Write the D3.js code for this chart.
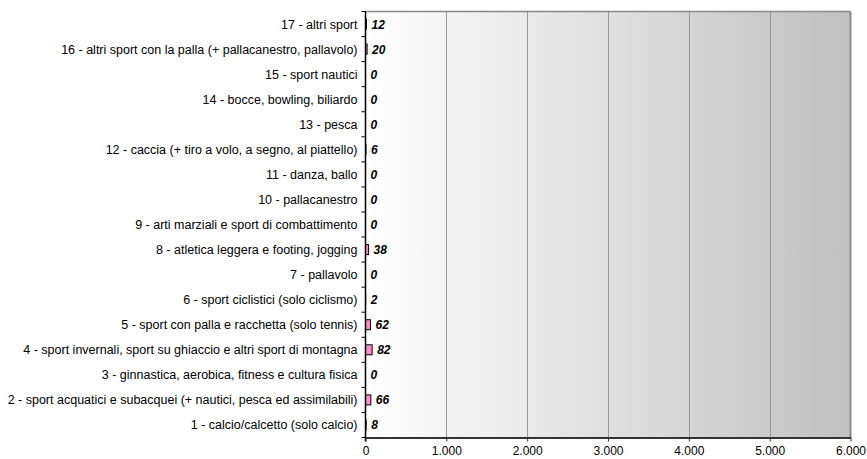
<!DOCTYPE html>
<html><head><meta charset="utf-8">
<script src="https://cdn.jsdelivr.net/npm/d3@7"></script>
<style>body{margin:0;background:#fff}svg{display:block}</style>
</head><body>
<svg id="c" width="867" height="459"></svg>
<script>
const categories = [
  "1 - calcio/calcetto (solo calcio)",
  "2 - sport acquatici e subacquei (+ nautici, pesca ed assimilabili)",
  "3 - ginnastica, aerobica, fitness e cultura fisica",
  "4 - sport invernali, sport su ghiaccio e altri sport di montagna",
  "5 - sport con palla e racchetta (solo tennis)",
  "6 - sport ciclistici (solo ciclismo)",
  "7 - pallavolo",
  "8 - atletica leggera e footing, jogging",
  "9 - arti marziali e sport di combattimento",
  "10 - pallacanestro",
  "11 - danza, ballo",
  "12 - caccia (+ tiro a volo, a segno, al piattello)",
  "13 - pesca",
  "14 - bocce, bowling, biliardo",
  "15 - sport nautici",
  "16 - altri sport con la palla (+ pallacanestro, pallavolo)",
  "17 - altri sport"
];
const values = [8, 66, 0, 82, 62, 2, 0, 38, 0, 0, 0, 6, 0, 0, 0, 20, 12];
const xTicks = [0, 1000, 2000, 3000, 4000, 5000, 6000];

const FONT = "'Liberation Sans', Arial, sans-serif";
const svg = d3.select("#c");
const L = 365.5, R = 850.5, T = 11.5, B = 437.5;
const x = d3.scaleLinear().domain([0, 6000]).range([L, R]);
const y = d3.scaleBand().domain(categories.slice().reverse()).range([T, B]).paddingInner(0).paddingOuter(0);

const defs = svg.append("defs");
const g = defs.append("linearGradient").attr("id", "bg").attr("x1", 0).attr("x2", 1).attr("y1", 0).attr("y2", 0);
g.append("stop").attr("offset", 0).attr("stop-color", "#ffffff");
g.append("stop").attr("offset", 1).attr("stop-color", "#c0c0c0");

svg.append("rect").attr("x", L).attr("y", T).attr("width", R - L).attr("height", B - T).attr("fill", "url(#bg)");

// gridlines
svg.append("g").selectAll("line").data(xTicks.slice(1, -1)).join("line")
  .attr("x1", d => Math.round(x(d)) + 0.5).attr("x2", d => Math.round(x(d)) + 0.5)
  .attr("y1", T).attr("y2", B).attr("stroke", "#999").attr("stroke-width", 1);

// border top/right
svg.append("line").attr("x1", L).attr("x2", R).attr("y1", T).attr("y2", T).attr("stroke", "#888").attr("stroke-width", 1.5);
svg.append("line").attr("x1", R).attr("x2", R).attr("y1", T).attr("y2", B).attr("stroke", "#888").attr("stroke-width", 2);

// bars
const bh = 10;
svg.append("g").selectAll("rect").data(categories).join("rect")
  .attr("x", L)
  .attr("y", (d, i) => y(d) + y.bandwidth() / 2 - bh / 2)
  .attr("width", (d, i) => x(values[i]) - L)
  .attr("height", bh)
  .attr("fill", "#ff8cc6").attr("stroke", "#000").attr("stroke-width", 1);

// value labels
svg.append("g").selectAll("text").data(categories).join("text")
  .attr("x", (d, i) => x(values[i]) + 5)
  .attr("y", (d, i) => y(d) + y.bandwidth() / 2 + 4.5)
  .style("font-family", FONT)
  .attr("font-size", 12).attr("font-weight", "bold").attr("font-style", "italic")
  .attr("fill", "#000")
  .text((d, i) => values[i]);

// y axis
const yAx = svg.append("g").attr("transform", `translate(${L},0)`);
yAx.append("line").attr("x1", 0).attr("x2", 0).attr("y1", T).attr("y2", B + 4).attr("stroke", "#000").attr("stroke-width", 1.5);
const bounds = d3.range(categories.length + 1).map(i => T + i * y.bandwidth());
yAx.selectAll("line.t").data(bounds).join("line").attr("class", "t")
  .attr("x1", -4).attr("x2", 0).attr("y1", d => d).attr("y2", d => d).attr("stroke", "#000");
yAx.selectAll("text").data(categories).join("text")
  .attr("x", -8).attr("y", d => y(d) + y.bandwidth() / 2 + 4.5)
  .attr("text-anchor", "end")
  .style("font-family", FONT).attr("font-size", 12.5).attr("fill", "#000")
  .text(d => d);

// x axis
const fmt = d => d3.format(",")(d).replace(/,/g, ".");
const xAx = svg.append("g").attr("transform", `translate(0,${B})`)
  .call(d3.axisBottom(x).tickValues(xTicks).tickFormat(fmt).tickSize(4).tickSizeOuter(0));
xAx.select(".domain").attr("stroke", "#333").attr("stroke-width", 2);
xAx.selectAll(".tick line").attr("stroke", "#333");
xAx.selectAll("text").style("font-family", FONT).attr("font-size", 12).attr("fill", "#000")
  .attr("dy", null).attr("y", 0).attr("dominant-baseline", "auto").attr("transform", "translate(0,17.5)");
</script>
</body></html>
